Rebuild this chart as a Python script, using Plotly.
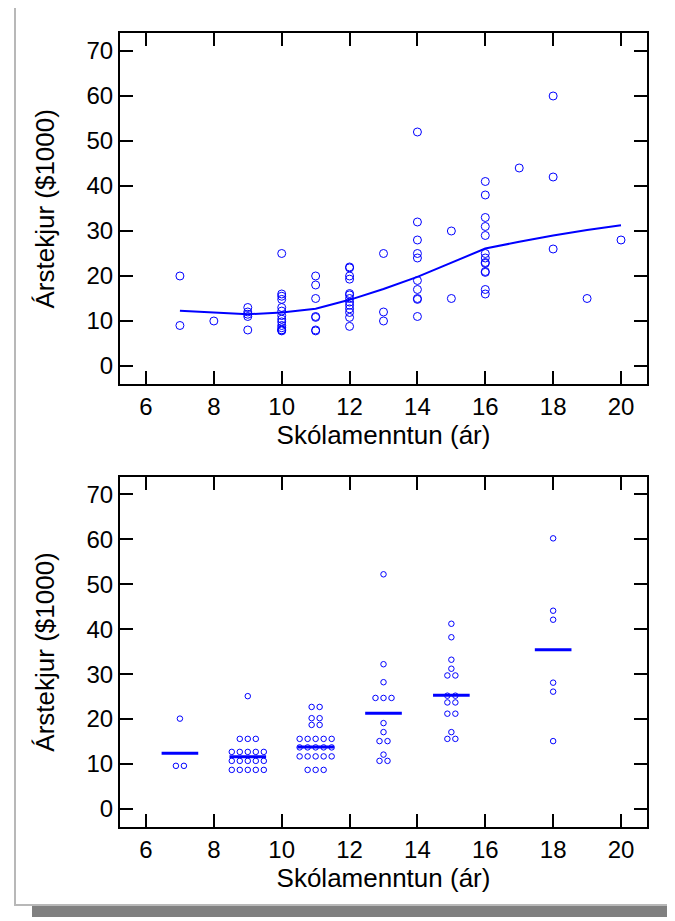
import plotly.graph_objects as go

# ---------------- data ----------------
# Top panel: years of schooling vs annual income ($1000)
edu = ([7, 7, 8] + [9] * 5 + [10] * 14 + [11] * 7 + [12] * 13 + [13] * 3 + [14] * 10
       + [15] * 2 + [16] * 13 + [17] + [18] * 3 + [19] + [20])
income = ([20, 9, 10]
          + [13, 12, 11.5, 11, 8]
          + [25, 16, 15.5, 14.8, 13, 12.2, 11.2, 10.4, 9.8, 9, 8.5, 8, 8, 7.8]
          + [20, 18, 15, 11, 10.8, 8, 7.8]
          + [22, 21.8, 20, 19.3, 16.1, 15.8, 15, 14.2, 13.5, 12.7, 11.9, 10.8, 8.8]
          + [25, 12, 10]
          + [52, 32, 28, 25, 24, 19, 17, 15, 14.8, 11]
          + [30, 15]
          + [41, 38, 33, 31, 29, 25, 24, 23, 22.8, 21, 20.8, 17, 16]
          + [44]
          + [60, 42, 26]
          + [15]
          + [28])

# smoothed curve
smooth_x = [7, 8, 9, 10, 11, 12, 13, 14, 15, 16, 17, 18, 19, 20]
smooth_y = [12.3, 11.9, 11.5, 11.9, 12.7, 14.7, 17.1, 19.8, 23.0, 26.1, 27.6, 29.0, 30.2, 31.3]

# Bottom panel: grouped dot plot (group centre, dot values) and group means
groups = [7, 9, 11, 13, 15, 18]
group_dots = [
    [20.1, 9.6, 9.6],
    [25.1] + [15.6] * 3 + [12.7] * 5 + [10.7] * 5 + [8.7] * 5,
    [22.7] * 2 + [20.2] * 2 + [18.7] * 2 + [15.6] * 5 + [13.7] * 5 + [11.7] * 5 + [8.7] * 3,
    [52.2, 32.2, 28.2] + [24.7] * 3 + [19.1, 17.1] + [15.1] * 2 + [12.1] + [10.7] * 2,
    [41.2, 38.2, 33.2, 31.2] + [29.7] * 2 + [25.2] * 2 + [23.7] * 2 + [21.2] * 2 + [17.1] + [15.6] * 2,
    [60.2, 44.1, 42.1, 28.1, 26.1, 15.1],
]
group_means = [12.4, 11.6, 13.8, 21.3, 25.3, 35.4]

x_ticks = [6, 8, 10, 12, 14, 16, 18, 20]
y_ticks = [0, 10, 20, 30, 40, 50, 60, 70]
x_title = "Skólamenntun (ár)"
y_title = "Árstekjur ($1000)"

# ---------------- figure ----------------
W, H = 675, 921
OFF = 8  # page body margin compensation
BLUE = "#0000ff"
FONT = "Liberation Sans, Arial, sans-serif"
DOT_STEP = 0.236
BAR_HALF = 0.54


def px(x):
    return (x - OFF) / W


def py(y):
    return 1 - (y - OFF) / H


fig = go.Figure()

fig.add_trace(go.Scatter(x=edu, y=income, mode="markers", xaxis="x", yaxis="y",
                         marker=dict(symbol="circle-open", size=8, color=BLUE,
                                     line=dict(width=1, color=BLUE)),
                         showlegend=False))
fig.add_trace(go.Scatter(x=smooth_x, y=smooth_y, mode="lines", xaxis="x", yaxis="y",
                         line=dict(color=BLUE, width=2), showlegend=False))

# dot plot positions (side-by-side stacking of equal values)
dx, dy = [], []
for g, vals in zip(groups, group_dots):
    uniq = []
    for v in vals:
        if v not in uniq:
            uniq.append(v)
    for v in uniq:
        n = vals.count(v)
        for i in range(n):
            dx.append(g + (i - (n - 1) / 2) * DOT_STEP)
            dy.append(v)
fig.add_trace(go.Scatter(x=dx, y=dy, mode="markers", xaxis="x2", yaxis="y2",
                         marker=dict(symbol="circle-open", size=5.5, color=BLUE,
                                     line=dict(width=1, color=BLUE)),
                         showlegend=False))
bx, by = [], []
for g, m in zip(groups, group_means):
    bx += [g - BAR_HALF, g + BAR_HALF, None]
    by += [m, m, None]
fig.add_trace(go.Scatter(x=bx, y=by, mode="lines", xaxis="x2", yaxis="y2",
                         line=dict(color=BLUE, width=3), showlegend=False))

axis_common = dict(showline=True, linecolor="black", linewidth=2, mirror="ticks",
                   ticks="inside", ticklen=13, tickwidth=2, tickcolor="black",
                   showgrid=False, zeroline=False,
                   tickfont=dict(family=FONT, size=24, color="black"))
title_font = dict(family=FONT, size=26, color="black")

xdom = [px(120), px(647)]
top_dom = [py(384.3), py(33.3)]
bot_dom = [py(827.3), py(476.6)]
xr = [5.234, 20.766]
yr = [-4.07, 73.93]

fig.update_layout(
    width=W, height=H, margin=dict(l=0, r=0, t=0, b=0),
    paper_bgcolor="white", plot_bgcolor="rgba(0,0,0,0)",
    xaxis=dict(domain=xdom, anchor="y", range=xr, tickvals=x_ticks,
               title=dict(text=x_title, font=title_font, standoff=6), **axis_common),
    yaxis=dict(domain=top_dom, anchor="x", range=yr, tickvals=y_ticks,
               title=dict(text=y_title, font=title_font, standoff=24), **axis_common),
    xaxis2=dict(domain=xdom, anchor="y2", range=xr, tickvals=x_ticks,
                title=dict(text=x_title, font=title_font, standoff=6), **axis_common),
    yaxis2=dict(domain=bot_dom, anchor="x2", range=yr, tickvals=y_ticks,
                title=dict(text=y_title, font=title_font, standoff=24), **axis_common),
    shapes=[
        dict(type="rect", xref="paper", yref="paper", layer="below",
             x0=px(32), x1=px(673), y0=py(917), y1=py(20),
             fillcolor="#808080", line=dict(width=0)),
        dict(type="rect", xref="paper", yref="paper", layer="below",
             x0=px(15), x1=px(673), y0=py(905), y1=py(6),
             fillcolor="white", line=dict(color="#b8b8b8", width=2)),
    ],
)

fig.write_html("out.html")
